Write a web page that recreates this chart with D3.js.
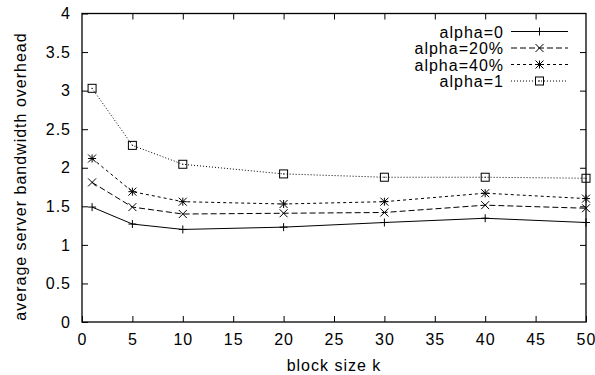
<!DOCTYPE html>
<html>
<head>
<meta charset="utf-8">
<script src="https://cdn.jsdelivr.net/npm/d3@7"></script>
<style>
  html, body { margin: 0; padding: 0; background: #fff; }
  svg text { font-family: "Liberation Sans", Arial, Helvetica, sans-serif; fill: #000; letter-spacing: 1px; }
</style>
</head>
<body>
<svg id="chart" width="595" height="375"></svg>
<script>
// Block sizes on the x axis
const blockSizes = [1, 5, 10, 20, 30, 40, 50];
// Average server bandwidth overhead per alpha setting
const alpha0   = [1.49, 1.27, 1.20, 1.23, 1.29, 1.345, 1.29];
const alpha20  = [1.81, 1.49, 1.40, 1.41, 1.42, 1.515, 1.475];
const alpha40  = [2.12, 1.69, 1.56, 1.53, 1.56, 1.67, 1.60];
const alpha1   = [3.03, 2.29, 2.045, 1.92, 1.877, 1.877, 1.864];
const seriesNames = ["alpha=0", "alpha=20%", "alpha=40%", "alpha=1"];
const xTicks = [0, 5, 10, 15, 20, 25, 30, 35, 40, 45, 50];
const yTicks = [0, 0.5, 1, 1.5, 2, 2.5, 3, 3.5, 4];

const series = [
  { name: seriesNames[0], values: alpha0,  dash: null,   marker: "plus" },
  { name: seriesNames[1], values: alpha20, dash: "6,3",  marker: "cross" },
  { name: seriesNames[2], values: alpha40, dash: "3,3",  marker: "star" },
  { name: seriesNames[3], values: alpha1,  dash: "1,2",  marker: "square" }
];

const svg = d3.select("#chart");
const plotLeft = 82, plotRight = 586, plotTop = 13.5, plotBottom = 322;
const x = d3.scaleLinear().domain([0, 50]).range([plotLeft, plotRight]);
const y = d3.scaleLinear().domain([0, 4]).range([plotBottom, plotTop]);
const tickLen = 6;
const fontSize = 16;

// Frame
svg.append("rect")
  .attr("x", plotLeft).attr("y", plotTop)
  .attr("width", plotRight - plotLeft).attr("height", plotBottom - plotTop)
  .attr("fill", "none").attr("stroke", "#000").attr("stroke-width", 1.3);

// Axes with inward ticks
const xAxis = svg.append("g").attr("transform", `translate(0,${plotBottom})`)
  .call(d3.axisBottom(x).tickValues(xTicks).tickSize(-tickLen).tickPadding(12).tickFormat(d3.format("d")));
const xAxisTop = svg.append("g").attr("transform", `translate(0,${plotTop})`)
  .call(d3.axisTop(x).tickValues(xTicks.slice(1, -1)).tickSize(-tickLen).tickFormat(""));
const yAxis = svg.append("g").attr("transform", `translate(${plotLeft},0)`)
  .call(d3.axisLeft(y).tickValues(yTicks).tickSize(-tickLen).tickPadding(11).tickFormat(d3.format("")));
const yAxisRight = svg.append("g").attr("transform", `translate(${plotRight},0)`)
  .call(d3.axisRight(y).tickValues(yTicks.slice(1, -1)).tickSize(-tickLen).tickFormat(""));

[xAxis, xAxisTop, yAxis, yAxisRight].forEach(g => {
  g.select(".domain").remove();
  g.selectAll(".tick line").attr("stroke", "#000").attr("stroke-width", 1);
  g.selectAll(".tick text").attr("font-size", fontSize).attr("fill", "#000")
    .style("font-family", "Liberation Sans, Arial, sans-serif");
});

// Axis titles
svg.append("text")
  .attr("x", (plotLeft + plotRight) / 2).attr("y", 371)
  .attr("text-anchor", "middle").attr("font-size", fontSize)
  .text("block size k");
svg.append("text")
  .attr("transform", `translate(25.5,176.5) rotate(-90)`)
  .attr("text-anchor", "middle").attr("font-size", fontSize)
  .text("average server bandwidth overhead");

// Point marker shapes
function drawMarker(g, type, cx, cy) {
  const s = 4;
  if (type === "plus") {
    g.append("path").attr("d", `M${cx - s},${cy}H${cx + s}M${cx},${cy - s}V${cy + s}`);
  } else if (type === "cross") {
    g.append("path").attr("d", `M${cx - s},${cy - s}L${cx + s},${cy + s}M${cx - s},${cy + s}L${cx + s},${cy - s}`);
  } else if (type === "star") {
    g.append("path").attr("d",
      `M${cx - s},${cy}H${cx + s}M${cx},${cy - s}V${cy + s}M${cx - s},${cy - s}L${cx + s},${cy + s}M${cx - s},${cy + s}L${cx + s},${cy - s}`);
  } else if (type === "square") {
    g.append("rect").attr("x", cx - s).attr("y", cy - s).attr("width", 2 * s).attr("height", 2 * s)
      .attr("fill", "none");
    g.append("rect").attr("x", cx - 0.5).attr("y", cy - 0.5).attr("width", 1).attr("height", 1)
      .attr("fill", "#000").attr("stroke", "none");
  }
}

const line = d3.line().x((d, i) => x(blockSizes[i])).y(d => y(d));

series.forEach(s => {
  const g = svg.append("g").attr("stroke", "#000").attr("stroke-width", 1).attr("fill", "none");
  g.append("path").attr("d", line(s.values))
    .attr("stroke-dasharray", s.dash);
  const mg = g.append("g");
  s.values.forEach((v, i) => drawMarker(mg, s.marker, x(blockSizes[i]), y(v)));
});

// Legend
const legendTextX = 504, legendLineX0 = 511, legendLineX1 = 568;
const legendRows = [31.5, 48, 64.5, 81];
series.forEach((s, i) => {
  const ly = legendRows[i];
  svg.append("text").attr("x", legendTextX).attr("y", ly + 6)
    .attr("text-anchor", "end").attr("font-size", fontSize).text(s.name);
  const g = svg.append("g").attr("stroke", "#000").attr("stroke-width", 1).attr("fill", "none");
  g.append("line").attr("x1", legendLineX0).attr("x2", legendLineX1).attr("y1", ly).attr("y2", ly)
    .attr("stroke-dasharray", s.dash);
  drawMarker(g, s.marker, (legendLineX0 + legendLineX1) / 2, ly);
});
</script>
</body>
</html>
